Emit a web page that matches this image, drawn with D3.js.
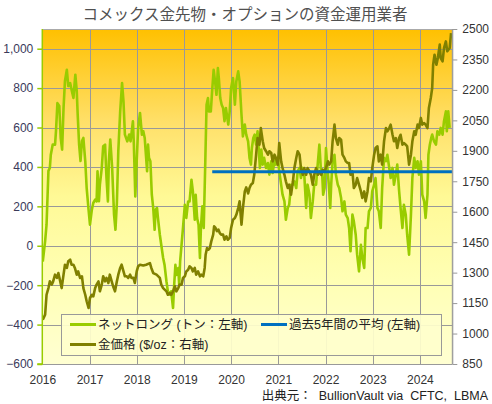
<!DOCTYPE html>
<html>
<head>
<meta charset="utf-8">
<script src="https://cdn.jsdelivr.net/npm/d3@7"></script>
<style>
  html, body { margin: 0; padding: 0; background: #fff; }
  svg { display: block; font-family: "Liberation Sans", Arial, "Noto Sans CJK JP", sans-serif; }
</style>
</head>
<body>
<svg id="chart" width="492" height="404"></svg>
<script>
// ---- Data (decimal year, value) ----
const netLongTime = [2016.01,2016.06,2016.09,2016.13,2016.16,2016.18,2016.22,2016.27,2016.29,2016.32,2016.36,2016.39,2016.42,2016.45,2016.48,2016.52,2016.55,2016.59,2016.62,2016.66,2016.68,2016.70,2016.73,2016.75,2016.78,2016.81,2016.84,2016.87,2016.91,2016.94,2016.98,2017.01,2017.05,2017.08,2017.12,2017.15,2017.17,2017.20,2017.22,2017.26,2017.29,2017.33,2017.36,2017.39,2017.41,2017.44,2017.48,2017.52,2017.55,2017.58,2017.61,2017.65,2017.69,2017.72,2017.75,2017.80,2017.84,2017.87,2017.92,2017.94,2017.97,2018.00,2018.03,2018.07,2018.11,2018.14,2018.17,2018.19,2018.22,2018.24,2018.26,2018.29,2018.32,2018.35,2018.38,2018.40,2018.43,2018.45,2018.49,2018.52,2018.56,2018.59,2018.63,2018.66,2018.70,2018.73,2018.77,2018.79,2018.82,2018.84,2018.88,2018.90,2018.92,2018.95,2018.98,2019.02,2019.05,2019.09,2019.12,2019.16,2019.19,2019.23,2019.25,2019.28,2019.31,2019.34,2019.36,2019.39,2019.42,2019.45,2019.48,2019.51,2019.53,2019.57,2019.60,2019.63,2019.66,2019.69,2019.72,2019.74,2019.77,2019.80,2019.83,2019.86,2019.89,2019.91,2019.94,2019.97,2020.00,2020.04,2020.08,2020.11,2020.15,2020.18,2020.22,2020.25,2020.29,2020.32,2020.36,2020.39,2020.42,2020.44,2020.47,2020.50,2020.53,2020.56,2020.59,2020.61,2020.64,2020.67,2020.70,2020.74,2020.78,2020.81,2020.85,2020.88,2020.92,2020.95,2020.99,2021.02,2021.06,2021.09,2021.13,2021.16,2021.20,2021.23,2021.27,2021.31,2021.34,2021.38,2021.41,2021.45,2021.48,2021.52,2021.55,2021.59,2021.62,2021.66,2021.69,2021.73,2021.76,2021.80,2021.84,2021.87,2021.90,2021.93,2021.95,2021.98,2022.01,2022.04,2022.07,2022.10,2022.12,2022.15,2022.19,2022.22,2022.26,2022.29,2022.33,2022.36,2022.40,2022.43,2022.47,2022.50,2022.53,2022.57,2022.60,2022.64,2022.67,2022.71,2022.75,2022.78,2022.82,2022.85,2022.89,2022.92,2022.96,2022.99,2023.03,2023.06,2023.10,2023.13,2023.17,2023.20,2023.24,2023.28,2023.31,2023.35,2023.38,2023.42,2023.45,2023.49,2023.52,2023.56,2023.59,2023.63,2023.66,2023.70,2023.73,2023.77,2023.81,2023.84,2023.88,2023.91,2023.95,2023.98,2024.02,2024.05,2024.09,2024.12,2024.16,2024.18,2024.21,2024.24,2024.26,2024.30,2024.34,2024.37,2024.41,2024.44,2024.48,2024.51,2024.55,2024.57,2024.60,2024.63,2024.66];
const netLongTonnes = [-80,24,107,380,395,462,513,513,582,724,709,547,488,699,836,893,811,826,792,750,811,868,784,665,513,430,531,547,430,293,183,107,183,217,234,225,378,226,310,395,505,513,344,225,429,539,395,158,81,217,479,682,826,733,564,530,564,530,632,513,250,429,598,674,564,581,547,479,378,513,446,429,259,192,81,183,192,141,56,5,-62,-97,-180,-231,-248,-231,-316,-214,-97,-148,-113,-197,-79,5,90,208,141,225,225,335,276,132,259,141,107,-62,90,200,90,395,716,750,682,682,792,893,834,766,902,851,750,716,699,632,699,665,615,682,801,851,716,834,885,834,665,555,615,564,530,446,412,496,547,564,513,581,471,395,488,412,446,395,420,361,429,369,437,412,446,378,310,259,225,132,192,208,310,310,327,293,378,395,344,395,361,192,310,259,141,225,310,310,429,513,395,361,259,293,496,395,310,192,310,429,462,361,310,293,242,175,225,158,140,90,-28,158,124,56,-45,-130,5,-62,-113,90,90,175,192,276,310,344,192,175,90,293,446,429,462,395,344,395,310,361,412,276,192,90,208,158,56,-45,158,344,446,395,429,361,429,259,225,141,259,462,513,547,564,530,513,581,564,598,564,632,682,581,682,598];

const goldTime = [2016.01,2016.06,2016.09,2016.13,2016.16,2016.20,2016.23,2016.27,2016.31,2016.34,2016.38,2016.41,2016.45,2016.48,2016.52,2016.55,2016.59,2016.62,2016.66,2016.69,2016.73,2016.76,2016.80,2016.84,2016.87,2016.91,2016.94,2016.98,2017.01,2017.05,2017.08,2017.12,2017.15,2017.19,2017.22,2017.26,2017.29,2017.33,2017.36,2017.40,2017.43,2017.47,2017.50,2017.54,2017.58,2017.61,2017.65,2017.68,2017.72,2017.75,2017.79,2017.82,2017.86,2017.89,2017.93,2017.96,2018.00,2018.03,2018.07,2018.14,2018.20,2018.28,2018.31,2018.35,2018.42,2018.49,2018.52,2018.56,2018.63,2018.66,2018.70,2018.73,2018.77,2018.81,2018.84,2018.88,2018.91,2018.95,2018.98,2019.02,2019.05,2019.09,2019.12,2019.16,2019.19,2019.23,2019.26,2019.30,2019.34,2019.37,2019.41,2019.44,2019.46,2019.49,2019.52,2019.55,2019.58,2019.62,2019.64,2019.67,2019.70,2019.73,2019.76,2019.79,2019.83,2019.86,2019.90,2019.93,2019.97,2020.00,2020.04,2020.08,2020.11,2020.15,2020.18,2020.22,2020.25,2020.29,2020.32,2020.36,2020.39,2020.42,2020.46,2020.49,2020.53,2020.56,2020.60,2020.63,2020.67,2020.70,2020.74,2020.78,2020.81,2020.85,2020.88,2020.92,2020.95,2020.99,2021.02,2021.06,2021.09,2021.13,2021.16,2021.20,2021.23,2021.27,2021.31,2021.34,2021.38,2021.41,2021.45,2021.48,2021.52,2021.55,2021.59,2021.62,2021.66,2021.69,2021.73,2021.76,2021.80,2021.84,2021.87,2021.91,2021.94,2021.98,2022.01,2022.05,2022.08,2022.12,2022.15,2022.19,2022.22,2022.26,2022.29,2022.33,2022.36,2022.40,2022.43,2022.47,2022.50,2022.53,2022.57,2022.60,2022.64,2022.67,2022.71,2022.75,2022.78,2022.82,2022.85,2022.89,2022.92,2022.96,2022.99,2023.03,2023.06,2023.10,2023.13,2023.17,2023.20,2023.24,2023.28,2023.31,2023.35,2023.38,2023.42,2023.45,2023.49,2023.52,2023.56,2023.59,2023.63,2023.66,2023.70,2023.73,2023.77,2023.81,2023.84,2023.88,2023.91,2023.95,2023.98,2024.02,2024.05,2024.09,2024.12,2024.16,2024.19,2024.23,2024.26,2024.28,2024.31,2024.35,2024.38,2024.42,2024.44,2024.48,2024.51,2024.55,2024.58,2024.63,2024.66];
const goldPrice = [1068,1093,1191,1224,1257,1241,1257,1290,1274,1298,1257,1224,1290,1339,1323,1356,1364,1339,1339,1323,1290,1306,1274,1282,1224,1191,1159,1126,1175,1191,1183,1224,1241,1257,1208,1241,1282,1257,1274,1249,1290,1257,1233,1208,1257,1290,1323,1339,1306,1282,1282,1274,1290,1274,1274,1249,1306,1331,1339,1335,1339,1347,1323,1298,1290,1274,1241,1224,1208,1191,1200,1191,1208,1233,1208,1224,1241,1241,1274,1282,1306,1314,1331,1323,1306,1323,1290,1306,1282,1290,1282,1323,1388,1421,1413,1421,1454,1487,1528,1520,1504,1512,1495,1487,1487,1462,1479,1462,1471,1520,1561,1569,1585,1618,1651,1536,1618,1700,1720,1690,1717,1733,1741,1782,1881,1963,1930,2012,1947,1914,1898,1881,1898,1889,1848,1881,1865,1832,1938,1848,1815,1782,1750,1717,1733,1684,1750,1815,1865,1898,1881,1815,1782,1815,1782,1815,1799,1782,1733,1782,1815,1782,1799,1782,1807,1799,1815,1848,1832,1848,1947,2029,1963,1930,1963,1955,1881,1865,1848,1840,1840,1782,1799,1717,1733,1766,1733,1700,1668,1700,1651,1700,1766,1750,1815,1881,1914,1922,1848,1881,1832,1947,2012,1996,2012,2029,1979,1947,1963,1914,1963,1979,1930,1938,1930,1922,1832,1881,1947,1996,1979,2029,2012,2062,2029,2037,2029,2012,2111,2160,2209,2324,2373,2324,2357,2423,2357,2341,2406,2439,2390,2406,2480];

const avgStart = 2019.60, avgEnd = 2024.69, avgValue = 375;

const leftTicks = [-600,-400,-200,0,200,400,600,800,1000];
const rightTicks = [850,1000,1150,1300,1450,1600,1750,1900,2050,2200,2350,2500];
const yearTicks = [2016,2017,2018,2019,2020,2021,2022,2023,2024];

const seriesNames = ["ネットロング (トン：左軸)", "過去5年間の平均 (左軸)", "金価格 ($/oz：右軸)"];
const titleText = "コメックス金先物・オプションの資金運用業者";
const sourceText = "出典元：  BullionVault via  CFTC,  LBMA";

// ---- Layout ----
const svg = d3.select("#chart");
const L = 42.3, R = 452.3, T = 29, B = 364;

const x = d3.scaleLinear().domain([2016, 2024.686]).range([L, R]);
const yL = d3.scaleLinear().domain([-600, 1100]).range([B, T]);
const yR = d3.scaleLinear().domain([850, 2500]).range([B, T]);

// background gradient
const defs = svg.append("defs");
const grad = defs.append("linearGradient").attr("id", "bg").attr("x1", 0).attr("y1", 0).attr("x2", 0).attr("y2", 1);
[[0, "#FFC000"], [0.28, "#FFE06A"], [0.5, "#FFF996"], [0.75, "#FFFFB4"], [1, "#FFFFD2"]].forEach(s =>
  grad.append("stop").attr("offset", s[0]).attr("stop-color", s[1]));
defs.append("clipPath").attr("id", "clip").append("rect")
  .attr("x", L).attr("y", T - 2).attr("width", R - L).attr("height", B - T + 2);

svg.append("rect").attr("x", L).attr("y", T).attr("width", R - L).attr("height", B - T).attr("fill", "url(#bg)");

// gridlines
const grid = svg.append("g");
grid.selectAll(".hg").data(leftTicks.filter(d => d > -600)).enter().append("line")
  .attr("x1", L).attr("x2", R).attr("y1", d => Math.round(yL(d)) + 0.5).attr("y2", d => Math.round(yL(d)) + 0.5)
  .attr("stroke", "#999").attr("stroke-width", 1);
grid.selectAll(".vg").data(yearTicks.slice(1)).enter().append("line")
  .attr("y1", T).attr("y2", B).attr("x1", d => Math.round(x(d)) + 0.5).attr("x2", d => Math.round(x(d)) + 0.5)
  .attr("stroke", "#999").attr("stroke-width", 1);
// plot frame top/right/bottom
svg.append("line").attr("x1", L).attr("x2", R).attr("y1", T + 0.5).attr("y2", T + 0.5).attr("stroke", "#aaa");
svg.append("line").attr("x1", R + 0.5).attr("x2", R + 0.5).attr("y1", T).attr("y2", B).attr("stroke", "#999");
svg.append("line").attr("x1", L).attr("x2", R).attr("y1", B + 0.5).attr("y2", B + 0.5).attr("stroke", "#999");

// lines
const plot = svg.append("g").attr("clip-path", "url(#clip)");
const netData = netLongTime.map((t, i) => [t, netLongTonnes[i]]);
const goldData = goldTime.map((t, i) => [t, goldPrice[i]]);

plot.append("path").datum(netData)
  .attr("d", d3.line().x(d => x(d[0])).y(d => yL(d[1])))
  .attr("fill", "none").attr("stroke", "#99CC00").attr("stroke-width", 2.6).attr("stroke-linejoin", "round");
plot.append("path").datum(goldData)
  .attr("d", d3.line().x(d => x(d[0])).y(d => yR(d[1])))
  .attr("fill", "none").attr("stroke", "#808000").attr("stroke-width", 2.6).attr("stroke-linejoin", "round");
plot.append("path").datum([[avgStart, avgValue], [avgEnd, avgValue]])
  .attr("d", d3.line().x(d => x(d[0])).y(d => yL(d[1])))
  .attr("fill", "none").attr("stroke", "#0070C0").attr("stroke-width", 3);

// left axis
const axL = svg.append("g").attr("transform", `translate(${L},0)`)
  .call(d3.axisLeft(yL).tickValues(leftTicks).tickSize(5).tickPadding(4).tickFormat(d3.format(",")));
axL.select(".domain").attr("stroke", "#99CC00").attr("stroke-width", 1.5).attr("d", `M-5,${B}H0V${T}`);
axL.selectAll(".tick line").attr("stroke", "#99CC00").attr("stroke-width", 1.5);
axL.selectAll(".tick text").attr("fill", "#3a3a5a").attr("font-size", 12);

// right axis
const axR = svg.append("g").attr("transform", `translate(${R},0)`)
  .call(d3.axisRight(yR).tickValues(rightTicks).tickSize(5).tickPadding(5).tickFormat(d3.format("d")));
axR.select(".domain").attr("stroke", "#999").attr("d", `M0,${T}V${B}`);
axR.selectAll(".tick line").attr("stroke", "#999");
axR.selectAll(".tick text").attr("fill", "#333").attr("font-size", 12);

// bottom axis
const axB = svg.append("g").attr("transform", `translate(0,${B})`)
  .call(d3.axisBottom(x).tickValues(yearTicks).tickSize(0).tickPadding(11).tickFormat(d3.format("d")));
axB.select(".domain").remove();
axB.selectAll(".tick text").attr("fill", "#333").attr("font-size", 12);

// legend
const lg = svg.append("g");
lg.append("rect").attr("x", 61.5).attr("y", 314.5).attr("width", 380).attr("height", 41)
  .attr("fill", "#FFFFCC").attr("fill-opacity", 0.92).attr("stroke", "#999");
const legItems = [
  {name: seriesNames[0], color: "#99CC00", lx: 70, ly: 324.5},
  {name: seriesNames[1], color: "#0070C0", lx: 261, ly: 324.5},
  {name: seriesNames[2], color: "#808000", lx: 70, ly: 344.5}
];
legItems.forEach(it => {
  lg.append("line").attr("x1", it.lx).attr("x2", it.lx + 26).attr("y1", it.ly).attr("y2", it.ly)
    .attr("stroke", it.color).attr("stroke-width", 3);
  lg.append("text").attr("x", it.lx + 28).attr("y", it.ly + 4.5).attr("font-size", 12.5).attr("fill", "#222").text(it.name);
});

// title & source
svg.append("text").attr("x", 245).attr("y", 20).attr("text-anchor", "middle")
  .attr("font-size", 15.5).attr("fill", "#505050").text(titleText);
svg.append("text").attr("x", 488).attr("y", 400).attr("text-anchor", "end")
  .attr("font-size", 12.5).attr("fill", "#222").style("white-space", "pre").text(sourceText);
</script>
</body>
</html>
